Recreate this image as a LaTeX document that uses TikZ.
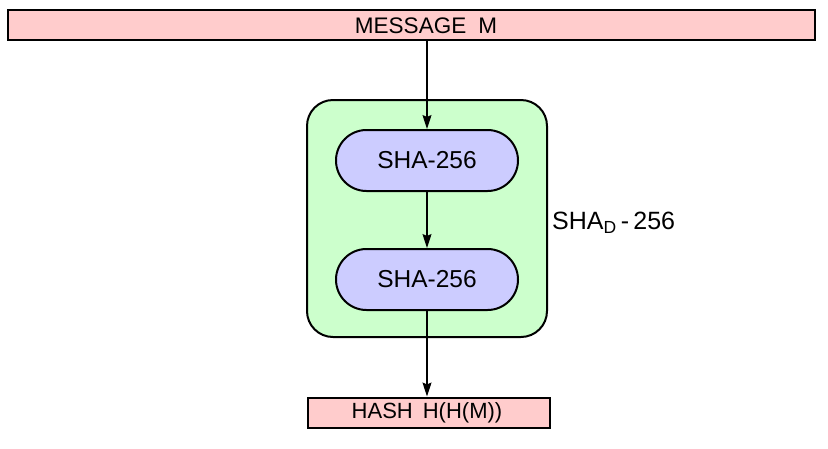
\documentclass[tikz,border=0pt]{standalone}
\usepackage{fontspec}
\setmainfont{Liberation Sans}
\usetikzlibrary{shapes.misc,arrows.meta}
\definecolor{pinkfill}{RGB}{255,204,204}
\definecolor{greenfill}{RGB}{204,255,204}
\definecolor{bluefill}{RGB}{204,204,255}
\tikzset{
  bar/.style={draw=black, line width=2pt, fill=pinkfill, rectangle, inner sep=0pt},
  outerbox/.style={draw=black, line width=2pt, fill=greenfill, rectangle, rounded corners=26pt, inner sep=0pt},
  shabox/.style={draw=black, line width=2pt, fill=bluefill, rounded rectangle, inner sep=0pt,
    minimum width=182pt, minimum height=61pt, font=\fontsize{24.5}{28}\selectfont},
  txt/.style={inner sep=0pt, font=\fontsize{22.5}{26}\selectfont},
  flow/.style={draw=black, line width=1.2pt, -{Stealth[length=14pt,width=9pt,inset=2pt]}}
}
\begin{document}
\begin{tikzpicture}[x=1pt,y=-1pt]
\useasboundingbox (0,0) rectangle (828,448);
\node[bar, minimum width=807pt, minimum height=30pt] (msg) at (411.5,25) {};
\node[txt] (msgtext) at (426,25.5) {MESSAGE\hspace{12pt}M};
\node[outerbox, minimum width=240pt, minimum height=237pt] (outer) at (427,218.5) {};
\node[shabox] (sha1) at (427,160.5) {SHA-256};
\node[shabox] (sha2) at (427,279.5) {SHA-256};
\node[txt, anchor=west, font=\fontsize{25}{28}\selectfont] (shad) at (552,223) {SHA\textsubscript{D}\,-\,256};
\node[bar, minimum width=242pt, minimum height=30pt] (hash) at (429,412.5) {};
\node[txt, font=\fontsize{22}{26}\selectfont] (hashtext) at (427,413) {HASH\hspace{10pt}H(H(M))};
\draw[flow] (msg.south -| sha1) -- (sha1.north);
\draw[flow] (sha1.south) -- (sha2.north);
\draw[flow] (sha2.south) -- (hash.north -| sha2);
\end{tikzpicture}
\end{document}
